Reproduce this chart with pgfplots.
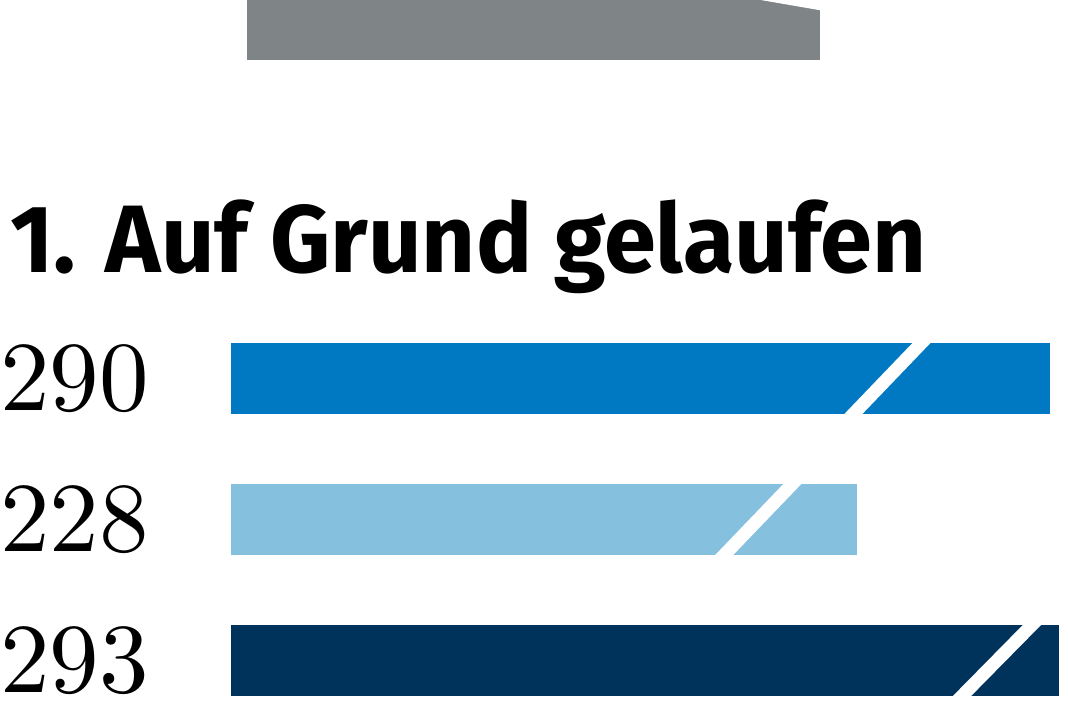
\documentclass[border=0pt]{standalone}
\usepackage{fontspec}
\usepackage{pgfplots}
\pgfplotsset{compat=1.18}
\newfontfamily\titlefont{Fira Sans}
\newfontfamily\numfont{lmroman10-regular.otf}
\definecolor{barmid}{HTML}{0079C2}
\definecolor{barlight}{HTML}{86C0DF}
\definecolor{bardark}{HTML}{00335C}
\definecolor{bargray}{HTML}{7F8487}

\begin{document}
\begin{tikzpicture}[x=0.5pt,y=0.5pt]
\useasboundingbox (0,0) rectangle (1068,712);
\coordinate (graypos) at (247,652);
\coordinate (barpos) at (231,403.4);

% previous section, only its lower end is visible
\begin{axis}[
    at={(graypos)}, anchor=south west,
    scale only axis, width=286.5pt, height=35.5pt,
    xmin=0, xmax=184, ymin=-0.5, ymax=0.5,
    hide axis, clip=false,
]
\addplot[xbar, bar width=35.5pt, bar shift=0pt, fill=bargray, draw=none]
    coordinates {(184,0)};
\fill[white] (axis cs:141.9,0.52) -- (axis cs:184.5,0.197) -- (axis cs:184.5,0.52) -- cycle;
\end{axis}

\node[anchor=base west, inner sep=0pt, xscale=0.978] at (10,439)
    {\titlefont\bfseries\fontsize{47.9}{50}\selectfont 1. Auf Grund gelaufen};

\begin{axis}[
    at={(barpos)}, anchor=north west,
    scale only axis, width=424.95pt, height=211.1pt,
    xmin=27, xmax=300, ymin=0.5, ymax=3.5, y dir=reverse,
    axis line style={draw=none}, major tick style={draw=none},
    xtick=\empty, ytick={1,2,3}, yticklabels={290,228,293},
    yticklabel style={anchor=west, inner sep=0pt, xshift=-115.5pt,
        font=\numfont\fontsize{49.5}{58}\selectfont},
    /pgf/number format/assume math mode=true,
]
\addplot[xbar, bar width=35.5pt, bar shift=0pt, fill=barmid, draw=none]
    coordinates {(290,1)};
\addplot[xbar, bar width=35.5pt, bar shift=0pt, fill=barlight, draw=none]
    coordinates {(228,2)};
\addplot[xbar, bar width=35.5pt, bar shift=0pt, fill=bardark, draw=none]
    coordinates {(293,3)};
\draw[white, line width=6.5pt] (axis cs:224.6,1.302) -- (axis cs:250.8,0.698);
\draw[white, line width=6.5pt] (axis cs:183.2,2.302) -- (axis cs:209.4,1.698);
\draw[white, line width=6.5pt] (axis cs:259.6,3.302) -- (axis cs:286.5,2.698);
\end{axis}
\end{tikzpicture}
\end{document}
